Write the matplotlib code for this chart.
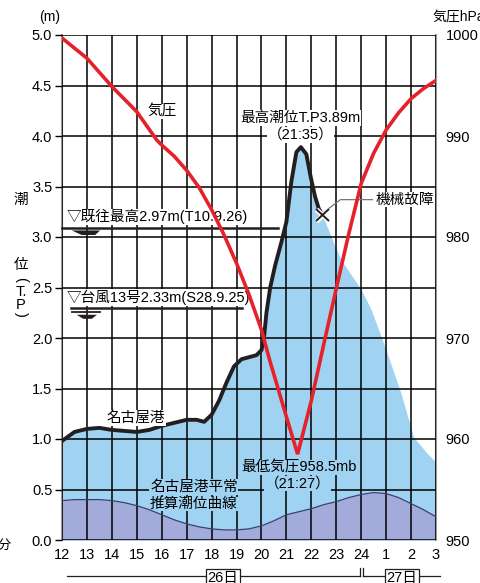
import matplotlib
matplotlib.use("Agg")
import matplotlib.pyplot as plt
import matplotlib.patheffects as pe
from matplotlib.lines import Line2D

plt.rcParams['font.family'] = ['Liberation Sans', 'Noto Sans CJK JP', 'DejaVu Sans']

# observed tide at Nagoya port (m, T.P.)
obs_hours = [12.0, 12.5, 13.0, 13.5, 14.0, 14.5, 15.0, 15.5, 16.0, 16.5, 17.0, 17.4,
             17.7, 18.0, 18.3, 18.6, 18.9, 19.2, 19.5, 19.8, 20.0, 20.1, 20.2, 20.35,
             20.55, 20.8, 21.0, 21.2, 21.4, 21.58, 21.8, 21.97, 22.15, 22.3, 22.44]
obs_level = [0.98, 1.07, 1.10, 1.11, 1.09, 1.08, 1.07, 1.09, 1.13, 1.16, 1.19, 1.19,
             1.17, 1.24, 1.38, 1.56, 1.72, 1.79, 1.81, 1.83, 1.88, 2.00, 2.25, 2.50,
             2.72, 2.95, 3.15, 3.55, 3.84, 3.89, 3.82, 3.60, 3.40, 3.28, 3.22]

# estimated tide after gauge failure
est_hours = [22.9, 23.2, 24.0, 24.4, 25.0, 25.6, 26.1, 26.6, 27.0]
est_level = [2.94, 2.77, 2.48, 2.28, 1.88, 1.45, 1.02, 0.87, 0.77]

# normal astronomical tide
astro_hours = [12, 12.5, 13, 13.5, 14, 14.5, 15, 15.5, 16, 16.5, 17, 17.5, 18, 18.5,
               19, 19.5, 20, 20.5, 21, 21.5, 22, 22.5, 23, 23.5, 24, 24.5, 25, 25.5,
               26, 26.5, 27]
astro_level = [0.39, 0.40, 0.40, 0.40, 0.39, 0.37, 0.34, 0.30, 0.25, 0.20, 0.16, 0.13,
               0.11, 0.10, 0.10, 0.11, 0.14, 0.19, 0.25, 0.28, 0.31, 0.35, 0.38, 0.42,
               0.45, 0.47, 0.46, 0.42, 0.36, 0.30, 0.23]

# air pressure (hPa)
p_hours = [12, 13, 14, 15, 15.8, 16, 16.5, 17, 17.5, 18, 18.5, 19, 19.5, 20, 20.33,
           21.0, 21.45, 22.0, 22.5, 23.0, 23.5, 24.0, 24.5, 25.0, 25.5, 26.0, 26.5, 27.0]
p_hpa = [999.7, 997.7, 994.9, 992.4, 989.6, 989.1, 988.0, 986.6, 984.9, 982.7, 980.2,
         977.4, 974.3, 970.8, 967.8, 962.2, 958.5, 963.8, 969.4, 974.9, 980.3, 985.3,
         988.3, 990.6, 992.3, 993.7, 994.7, 995.5]

x_ticks = list(range(12, 28))
x_labels = ['12', '13', '14', '15', '16', '17', '18', '19', '20', '21', '22', '23',
            '24', '1', '2', '3']
y_ticks = [0.0, 0.5, 1.0, 1.5, 2.0, 2.5, 3.0, 3.5, 4.0, 4.5, 5.0]
p_ticks = [950, 960, 970, 980, 990, 1000]

RED = '#e5222b'
BLUE = '#9fd3f1'
PURPLE = '#a2abd9'
BLACK = '#231f20'
GRAY = '#9a9a9a'


def main():
    fig = plt.figure(figsize=(4.8, 5.83), dpi=100)
    ax = fig.add_axes([62 / 480, 1 - 540 / 583, 374 / 480, 505 / 583])

    ax.fill_between(obs_hours + est_hours, 0, obs_level + est_level,
                    color=BLUE, lw=0, zorder=1)
    ax.fill_between(astro_hours, 0, astro_level, color=PURPLE, lw=0, zorder=1.1)
    ax.plot(astro_hours, astro_level, color='#3b3f6e', lw=0.9, zorder=3)

    ax.set_xlim(12, 27)
    ax.set_ylim(0, 5)
    ax.set_xticks(x_ticks)
    ax.set_xticklabels(x_labels)
    ax.set_yticks(y_ticks)
    ax.set_yticklabels([f'{v:.1f}' for v in y_ticks])
    ax.grid(True, color='black', lw=1.1)
    ax.set_axisbelow(False)
    ax.tick_params(axis='x', length=0, pad=6, labelsize=10.5)
    ax.tick_params(axis='y', length=5, width=1, pad=2, labelsize=10.5, color='black')
    for s in ['top', 'bottom']:
        ax.spines[s].set_visible(False)
    for s in ['left', 'right']:
        ax.spines[s].set_color(GRAY)
        ax.spines[s].set_linewidth(1.5)

    ax.plot(obs_hours, obs_level, color=BLACK, lw=2.8, zorder=4,
            solid_joinstyle='round', solid_capstyle='round')
    ax.plot([obs_hours[-1]], [obs_level[-1]], marker='x', ms=9, mew=1.4, color=BLACK,
            zorder=6, path_effects=[pe.Stroke(linewidth=3.5, foreground='white'), pe.Normal()])

    # past record lines
    ax.plot([12.0, 20.68], [3.09, 3.09], color=BLACK, lw=1.8, zorder=4, clip_on=False)
    ax.plot([12.35, 19.2], [2.30, 2.30], color=BLACK, lw=1.8, zorder=4)
    ax.fill([12.39, 13.53, 13.33, 12.79], [3.065, 3.065, 3.02, 3.02], color=BLACK, lw=0, zorder=4)
    ax.plot([12.39, 13.53], [2.26, 2.26], color=BLACK, lw=1.3, zorder=4)
    ax.fill([12.59, 13.4, 13.2, 12.85], [2.23, 2.23, 2.19, 2.19], color=BLACK, lw=0, zorder=4)

    white = dict(facecolor='white', edgecolor='none', pad=0.5)
    blue = dict(facecolor=BLUE, edgecolor='none', pad=0.5)
    fs = 10.5
    ax.text(12.2, 3.20, '▽既往最高2.97m(T10.9.26)', fontsize=fs, va='center', ha='left',
            zorder=5, bbox=white)
    ax.text(12.2, 2.40, '▽台風13号2.33m(S28.9.25)', fontsize=fs, va='center', ha='left',
            zorder=5, bbox=white)
    ax.text(16.0, 4.24, '気圧', fontsize=fs, ha='center', va='center', zorder=5, bbox=white)
    ax.text(21.56, 4.18, '最高潮位T.P3.89m', fontsize=fs, ha='center', va='center',
            zorder=5, bbox=white)
    ax.text(21.56, 4.01, '（21:35）', fontsize=fs, ha='center', va='center', zorder=5,
            bbox=white)
    ax.text(21.52, 0.716, '最低気圧958.5mb', fontsize=fs, ha='center', va='center',
            zorder=5, bbox=blue)
    ax.text(21.44, 0.56, '（21:27）', fontsize=fs, ha='center', va='center', zorder=5,
            bbox=blue)
    ax.text(14.97, 1.21, '名古屋港', fontsize=fs, ha='center', va='center', zorder=5,
            bbox=white)
    ax.text(15.53, 0.525, '名古屋港平常', fontsize=fs, ha='left', va='center', zorder=5,
            bbox=blue)
    ax.text(15.53, 0.356, '推算潮位曲線', fontsize=fs, ha='left', va='center', zorder=2.7,
            bbox=dict(facecolor=BLUE, edgecolor='none', pad=0.1))

    # gauge failure leader
    ax.plot([22.52, 23.17, 24.45], [3.25, 3.37, 3.37], color='#777777', lw=0.9, zorder=5)
    ax.text(24.57, 3.37, '機械故障', fontsize=fs, ha='left', va='center', zorder=5,
            bbox=white)

    ax2 = ax.twinx()
    ax2.set_ylim(950, 1000)
    ax2.set_yticks(p_ticks)
    ax2.tick_params(axis='y', length=0, pad=7, labelsize=10.5)
    for s in ax2.spines.values():
        s.set_visible(False)
    ax2.plot(p_hours, p_hpa, color=RED, lw=2.6, zorder=5, solid_joinstyle='miter')

    # axis titles
    fig.text(50 / 480, 1 - 17 / 583, '(m)', fontsize=10, ha='center', va='center')
    fig.text(432 / 480, 1 - 17 / 583, '気圧hPa', fontsize=10, ha='left', va='center')
    for ch, y, rot in [('潮', 200, 0), ('位', 265, 0), ('(', 279, -90), ('T.', 292, 0),
                       ('P', 305, 0), (')', 314, -90)]:
        fig.text(21 / 480, 1 - y / 583, ch, fontsize=10.5, ha='center', va='center',
                 rotation=rot)
    fig.text(12 / 480, 1 - 546 / 583, '15分', fontsize=9.5, ha='right', va='center')

    # day bar under the x axis
    tr = fig.transFigure
    yb = 1 - 576 / 583
    fig.add_artist(Line2D([67 / 480, 360 / 480], [yb, yb], color=BLACK, lw=0.9, transform=tr))
    fig.add_artist(Line2D([363 / 480, 440 / 480], [yb, yb], color=BLACK, lw=0.9, transform=tr))
    for xp in [360, 363]:
        fig.add_artist(Line2D([xp / 480, xp / 480], [1 - 568 / 583, yb], color=BLACK,
                              lw=0.9, transform=tr))
    box = dict(facecolor='white', edgecolor=BLACK, lw=0.9, pad=1.5)
    fig.text(223 / 480, 1 - 578 / 583, '26日', fontsize=10.5, ha='center', va='center',
             bbox=box)
    fig.text(402 / 480, 1 - 578 / 583, '27日', fontsize=10.5, ha='center', va='center',
             bbox=box)

    fig.savefig('out.png', dpi=100)


if __name__ == "__main__":
    main()
